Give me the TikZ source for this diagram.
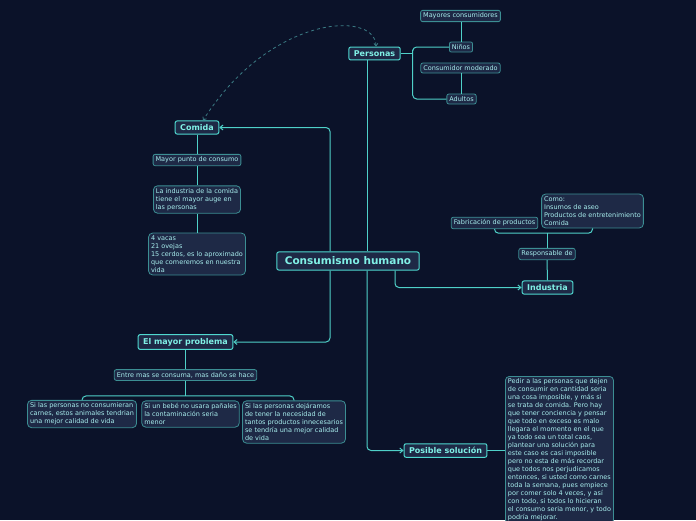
\documentclass[tikz,border=0pt]{standalone}
\usepackage{fontspec}
\setmainfont{DejaVu Sans}
\usetikzlibrary{arrows.meta}
\definecolor{bgc}{HTML}{0B1229}
\definecolor{nodec}{HTML}{1E2946}
\definecolor{mainc}{HTML}{4FD8CF}
\definecolor{subc}{HTML}{3C8E93}
\definecolor{linec}{HTML}{4FD0C8}
\definecolor{relc}{HTML}{3B7C85}
\definecolor{maintext}{HTML}{80F0E6}
\definecolor{subtext}{HTML}{A8EEEE}
\begin{document}
\begin{tikzpicture}[x=1pt, y=-1pt,
  topic/.style={draw=mainc, fill=nodec, line width=1pt, rounded corners=2pt,
                text=maintext, font=\bfseries\fontsize{8}{9.5}\selectfont,
                inner xsep=5pt, inner ysep=3.5pt},
  central/.style={topic, font=\bfseries\fontsize{10.5}{12}\selectfont, inner xsep=8pt, inner ysep=5pt},
  sub/.style={draw=subc, fill=nodec, line width=0.8pt, rounded corners=2pt,
              text=subtext, font=\fontsize{6.5}{8}\selectfont, inner sep=2.5pt},
  multi/.style={sub, align=left, rounded corners=4pt},
  link/.style={draw=linec, line width=1pt, rounded corners=4pt},
  arr/.style={link, -{Straight Barb[length=3pt,width=5pt]}},
  rel/.style={draw=relc, line width=0.8pt, dashed,
              {Straight Barb[length=2.5pt,width=4pt]}-{Straight Barb[length=2.5pt,width=4pt]}},
]
  \useasboundingbox[fill=bgc] (0,0) rectangle (696,520);

  % main topics
  \node[central] (centro) at (348,261) {Consumismo humano};
  \node[topic] (personas) at (374.5,53.5) {Personas};
  \node[topic] (comida) at (197,127.5) {Comida};
  \node[topic] (problema) at (185.5,342) {El mayor problema};
  \node[topic] (industria) at (547.5,287.5) {Industria};
  \node[topic] (solucion) at (445.5,450.5) {Posible solución};

  % personas
  \node[sub] (mayores) at (460.5,16) {Mayores consumidores};
  \node[sub] (ninos) at (461,47) {Niños};
  \node[sub] (moderado) at (460.5,68) {Consumidor moderado};
  \node[sub] (adultos) at (461.5,99) {Adultos};

  % comida
  \node[sub] (punto) at (197,160) {Mayor punto de consumo};
  \node[multi] (auge) at (197,199.5) {La industria de la comida\\tiene el mayor auge en\\las personas};
  \node[multi] (vacas) at (197,254) {4 vacas\\21 ovejas\\15 cerdos, es lo aproximado\\que comeremos en nuestra\\vida};

  % industria
  \node[sub] (responsable) at (547,254) {Responsable de};
  \node[sub] (fabricacion) at (494.5,223) {Fabricación de productos};
  \node[multi] (como) at (592.5,211) {Como:\\Insumos de aseo\\Productos de entretenimiento\\Comida};

  % problema
  \node[sub] (entre) at (185.5,375) {Entre mas se consuma, mas daño se hace};
  \node[multi] (carnes) at (82,414) {Si las personas no consumieran\\carnes, estos animales tendrian\\una mejor calidad de vida};
  \node[multi] (bebe) at (190.5,414) {Si un bebé no usara pañales\\la contaminación seria\\menor};
  \node[multi] (dejaramos) at (294,422) {Si las personas dejáramos\\de tener la necesidad de\\tantos productos innecesarios\\se tendría una mejor calidad\\de vida};

  % solucion
  \node[multi, anchor=north west] (pedir) at (505,376) {Pedir a las personas que dejen\\de consumir en cantidad seria\\una cosa imposible, y más si\\se trata de comida. Pero hay\\que tener conciencia y pensar\\que todo en exceso es malo\\llegara el momento en el que\\ya todo sea un total caos,\\plantear una solución para\\este caso es casi imposible\\pero no esta de más recordar\\que todos nos perjudicamos\\entonces, si usted como carnes\\toda la semana, pues empiece\\por comer solo 4 veces, y así\\con todo, si todos lo hicieran\\el consumo seria menor, y todo\\podría mejorar.};

  % connectors from the centre
  \draw[arr] ([xshift=-18pt]centro.north) |- (comida.east);
  \draw[link] ([xshift=19pt]centro.north) -- ([xshift=19pt]centro.north |- personas.south);
  \draw[arr] ([xshift=-18pt]centro.south) |- (problema.east);
  \draw[arr] ([xshift=19pt]centro.south) |- (solucion.west);
  \draw[arr] ([xshift=47pt]centro.south) |- (industria.west);

  % personas
  \draw[link] (personas.east) -- ++(12,0);
  \draw[link] (ninos.west) -| ([xshift=12pt]personas.east) |- (adultos.west);
  \draw[link] (ninos.north) -- (ninos.north |- mayores.south);
  \draw[link] (adultos.north) -- (adultos.north |- moderado.south);

  % comida
  \draw[link] (comida.south) -- (punto.north);
  \draw[link] (punto.south) -- (auge.north);
  \draw[link] (auge.south) -- (vacas.north);

  % industria
  \draw[link] (industria.north) -- (responsable.south);
  \draw[link] (responsable.north) -- ++(0,-15);
  \draw[link] (fabricacion.south) -- ++(0,4) -| (como.south);

  % problema
  \draw[link] (problema.south) -- (entre.north);
  \draw[link] (entre.south) -- ++(0,15);
  \draw[link] (carnes.north) -- ++(0,-4) -| (dejaramos.north);

  % solucion
  \draw[link] (solucion.east) -- (pedir.west |- solucion.east);

  % relation
  \draw[rel] ([xshift=1.5pt]personas.north) .. controls (375,10) and (270,15) .. ([xshift=6pt]comida.north);
\end{tikzpicture}
\end{document}
